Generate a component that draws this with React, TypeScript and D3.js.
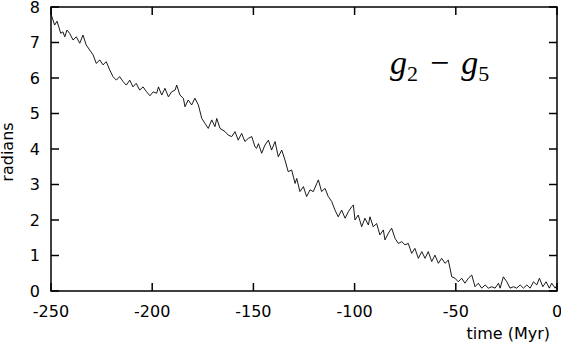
import { scaleLinear, line } from 'd3'

// values (time in Myr, angle in radians)
const times = [
  -250.0, -248.2, -247.0, -245.2, -244.1, -243.2, -242.1, -240.8, -239.1, -237.5,
  -235.8, -234.2, -232.6, -230.9, -229.2, -227.6, -225.9, -224.3, -222.7, -221.0,
  -219.4, -217.7, -216.1, -214.4, -212.8, -211.1, -209.5, -207.9, -206.2, -204.5,
  -202.9, -201.1, -199.5, -197.8, -196.9, -195.3, -193.7, -192.0, -190.4, -188.7,
  -187.9, -186.3, -184.6, -183.8, -182.2, -180.5, -178.9, -177.2, -175.5, -173.9,
  -172.3, -170.6, -169.0, -168.1, -166.5, -164.0, -162.4, -160.7, -159.1, -157.5,
  -155.8, -154.2, -152.5, -150.8, -149.2, -148.4, -147.5, -145.9, -144.3, -142.6,
  -141.0, -139.3, -137.7, -136.0, -134.4, -132.8, -131.1, -129.4, -128.6, -127.0,
  -125.3, -123.7, -122.0, -120.4, -118.7, -117.9, -116.3, -114.6, -113.0, -111.3,
  -109.7, -108.1, -106.4, -104.7, -103.1, -101.4, -100.6, -99.8, -98.2, -96.5,
  -94.9, -93.2, -92.4, -90.8, -89.1, -87.5, -85.8, -85.0, -83.3, -81.7,
  -80.0, -78.4, -76.7, -75.1, -73.5, -71.8, -70.2, -68.5, -66.8, -65.2,
  -63.6, -61.9, -60.3, -58.6, -57.0, -55.3, -53.7, -52.0, -50.4, -48.8,
  -47.1, -45.5, -43.8, -42.1, -40.5, -38.9, -37.2, -35.5, -33.9, -32.2,
  -30.6, -28.9, -28.1, -26.5, -24.8, -23.2, -21.5, -19.9, -18.2, -16.6,
  -14.9, -13.3, -11.6, -10.0, -8.7, -7.0, -5.4, -3.8, -2.6, -0.9,
  0.0,
]

const radians = [
  7.8, 7.49, 7.6, 7.26, 7.3, 7.16, 7.35, 7.26, 7.07, 7.16,
  6.98, 7.21, 6.93, 6.79, 6.65, 6.41, 6.51, 6.37, 6.46, 6.23,
  6.04, 5.94, 6.04, 5.9, 5.8, 5.94, 5.75, 5.85, 5.66, 5.75,
  5.62, 5.5, 5.61, 5.57, 5.75, 5.52, 5.71, 5.47, 5.61, 5.66,
  5.8, 5.52, 5.43, 5.19, 5.38, 5.24, 5.43, 5.24, 4.86, 4.72,
  4.58, 4.82, 4.63, 4.86, 4.58, 4.49, 4.39, 4.35, 4.49, 4.25,
  4.44, 4.21, 4.3, 4.35, 4.06, 4.02, 4.15, 3.88, 4.11, 4.25,
  3.97, 4.21, 3.78, 3.97, 3.69, 3.36, 3.41, 3.03, 3.17, 2.8,
  2.94, 2.66, 2.85, 2.8, 3.03, 3.13, 2.8, 2.89, 2.66, 2.52,
  2.28, 2.09, 2.28, 2.05, 2.23, 2.38, 2.42, 2.0, 2.14, 1.81,
  2.05, 1.86, 2.09, 1.81, 1.9, 1.58, 1.72, 1.44, 1.63, 1.77,
  1.48, 1.34, 1.39, 1.3, 1.34, 1.06, 1.2, 0.92, 1.11, 0.92,
  1.11, 0.83, 1.01, 0.78, 0.92, 0.78, 0.87, 0.4, 0.36, 0.26,
  0.36, 0.22, 0.36, 0.45, 0.12, 0.22, 0.08, 0.17, 0.08, 0.12,
  0.08, 0.22, 0.08, 0.4, 0.26, 0.08, 0.12, 0.08, 0.17, 0.08,
  0.17, 0.08, 0.26, 0.17, 0.36, 0.12, 0.26, 0.08, 0.22, 0.08,
  0.17,
]

const xTicks = [-250, -200, -150, -100, -50, 0]
const yTicks = [0, 1, 2, 3, 4, 5, 6, 7, 8]

const App = () => {
  const width = 561
  const height = 347
  const margin = { top: 7, left: 51, right: 4, bottom: 56 }
  const innerWidth = width - margin.left - margin.right
  const innerHeight = height - margin.top - margin.bottom
  const tickLen = 8
  const font = '"DejaVu Sans", sans-serif'

  const xScale = scaleLinear().domain([-250, 0]).range([0, innerWidth])
  const yScale = scaleLinear().domain([0, 8]).range([innerHeight, 0])

  const points = times.map((t, i) => [t, radians[i]] as [number, number])
  const lineGenerator = line<[number, number]>()
    .x((d) => xScale(d[0]))
    .y((d) => yScale(d[1]))

  return (
    <svg
      width={width}
      height={height}
      style={{ position: 'absolute', left: 0, top: 0, background: '#fff' }}
    >
      <g transform={`translate(${margin.left} ${margin.top})`}>
        <path
          d={lineGenerator(points) ?? ''}
          fill="none"
          stroke="#000"
          strokeWidth={0.9}
          strokeLinejoin="round"
        />

        {xTicks.map((t) => (
          <g key={'x' + t}>
            <line x1={xScale(t)} x2={xScale(t)} y1={innerHeight} y2={innerHeight - tickLen} stroke="#000" strokeWidth={1.5} />
            <line x1={xScale(t)} x2={xScale(t)} y1={0} y2={tickLen} stroke="#000" strokeWidth={1.5} />
            <text x={xScale(t)} y={innerHeight + 26} textAnchor="middle" fontFamily={font} fontSize={16}>
              {t}
            </text>
          </g>
        ))}

        {yTicks.map((v) => (
          <g key={'y' + v}>
            <line x1={0} x2={tickLen} y1={yScale(v)} y2={yScale(v)} stroke="#000" strokeWidth={1.5} />
            <line x1={innerWidth} x2={innerWidth - tickLen} y1={yScale(v)} y2={yScale(v)} stroke="#000" strokeWidth={1.5} />
            <text x={-11} y={yScale(v)} dy="0.36em" textAnchor="end" fontFamily={font} fontSize={16}>
              {v}
            </text>
          </g>
        ))}

        <rect x={0} y={0} width={innerWidth} height={innerHeight} fill="none" stroke="#000" strokeWidth={1.5} />

        <text
          transform={`translate(${-38} ${innerHeight / 2 + 3}) rotate(-90)`}
          textAnchor="middle"
          fontFamily={font}
          fontSize={16}
        >
          radians
        </text>
        <text x={innerWidth - 7} y={height - margin.top - 8} textAnchor="end" fontFamily={font} fontSize={16}>
          time (Myr)
        </text>

        <text x={339} y={67} fontFamily='"Liberation Serif", serif' fontSize={34}>
          <tspan fontStyle="italic">g</tspan>
          <tspan dy={7} fontSize={22}>2</tspan>
          <tspan dy={-7} dx={12}>−</tspan>
          <tspan dx={12} fontStyle="italic">g</tspan>
          <tspan dy={7} fontSize={22}>5</tspan>
        </text>
      </g>
    </svg>
  )
}

export default App
